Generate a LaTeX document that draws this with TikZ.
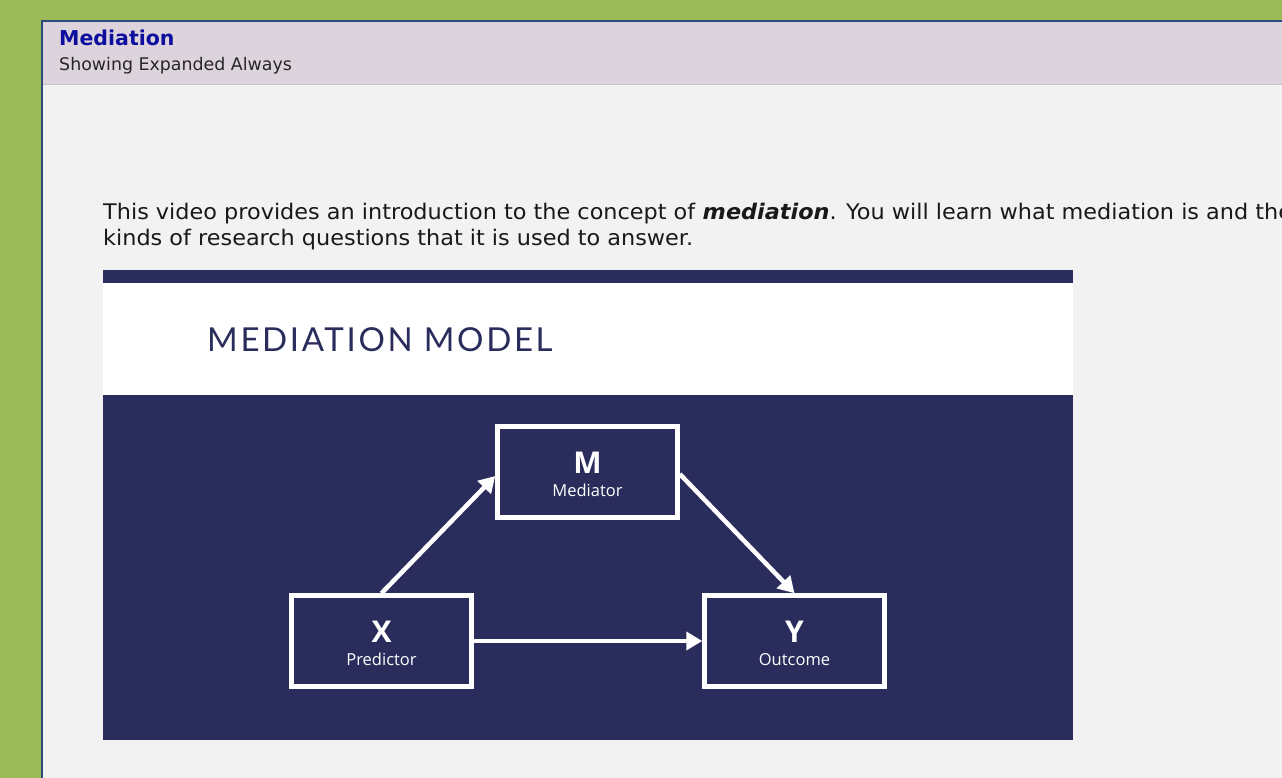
\documentclass[tikz,border=0pt]{standalone}
\usepackage{fontspec}
\setmainfont{DejaVu Sans}
\newfontfamily\bodyfont[FakeStretch=1.04]{DejaVu Sans}
\newfontfamily\slidefont[LetterSpace=8]{Lato}
\newfontfamily\boxfont{Open Sans}
\usetikzlibrary{arrows.meta}

\definecolor{pagegreen}{HTML}{9BBB59}
\definecolor{headlilac}{HTML}{DDD3DC}
\definecolor{panelgray}{HTML}{F2F2F2}
\definecolor{panelblue}{HTML}{2E4A7A}
\definecolor{titleblue}{HTML}{0E0E9E}
\definecolor{slidenavy}{HTML}{2A2D5C}

\begin{document}
\begin{tikzpicture}[x=1pt, y=-1pt,
	textline/.style={anchor=base west, inner sep=0pt},
	varbox/.style={draw=white, line width=4.5pt, minimum width=180pt, minimum height=91pt, inner sep=0pt},
	varletter/.style={anchor=base, inner sep=0pt, text=white, font=\boxfont\bfseries\fontsize{30}{30}\selectfont},
	varname/.style={anchor=base, inner sep=0pt, text=white, font=\boxfont\fontsize{16.5}{16.5}\selectfont},
	path arrow/.style={draw=white, line width=4.5pt, -{Triangle[length=16pt,width=18pt]}}]
	\clip (0,0) rectangle (1282,778);
	\fill[pagegreen] (0,0) rectangle (1282,778);
	\fill[panelgray] (41,20) rectangle (1282,778);
	\fill[headlilac] (41,20) rectangle (1282,84);
	\draw[color=gray!45, line width=1.5pt] (41,84.5) -- (1282,84.5);
	\draw[color=panelblue, line width=2pt] (1282,21) -- (42,21) -- (42,778);
	\node[textline, text=titleblue, font=\bfseries\fontsize{20.5}{20.5}\selectfont] (heading) at (59,46) {Mediation};
	\node[textline, text=black!85, font=\fontsize{17.4}{17.4}\selectfont] (subheading) at (59,71) {Showing Expanded Always};
	\node[textline, text=black!90, font=\bodyfont\fontsize{21.5}{21.5}\selectfont] (line1) at (103,219) {This video provides an introduction to the concept of \textbf{\textit{mediation}}. You will learn what mediation is and the};
	\node[textline, text=black!90, font=\bodyfont\fontsize{21.5}{21.5}\selectfont] (line2) at (103,245) {kinds of research questions that it is used to answer.};
	% slide
	\fill[slidenavy] (103,270) rectangle (1073,740);
	\fill[white] (103,283) rectangle (1073,395);
	\node[textline, text=slidenavy, font=\slidefont\fontsize{33}{33}\selectfont] (slidetitle) at (207,351) {MEDIATION MODEL};
	\node[varbox] (M) at (587.5,472) {};
	\node[varbox] (X) at (381.5,641) {};
	\node[varbox] (Y) at (794.5,641) {};
	\node[varletter] (mletter) at ([yshift=-1pt]M.center) {M};
	\node[varname] (mname) at ([yshift=-24pt]M.center) {Mediator};
	\node[varletter] (xletter) at ([yshift=-1pt]X.center) {X};
	\node[varname] (xname) at ([yshift=-24pt]X.center) {Predictor};
	\node[varletter] (yletter) at ([yshift=-1pt]Y.center) {Y};
	\node[varname] (yname) at ([yshift=-24pt]Y.center) {Outcome};
	\draw[path arrow] (X.north) -- ([yshift=-4pt]M.west);
	\draw[path arrow] ([yshift=-2pt]M.east) -- (Y.north);
	\draw[path arrow] (X.east) -- (Y.west);
\end{tikzpicture}
\end{document}
